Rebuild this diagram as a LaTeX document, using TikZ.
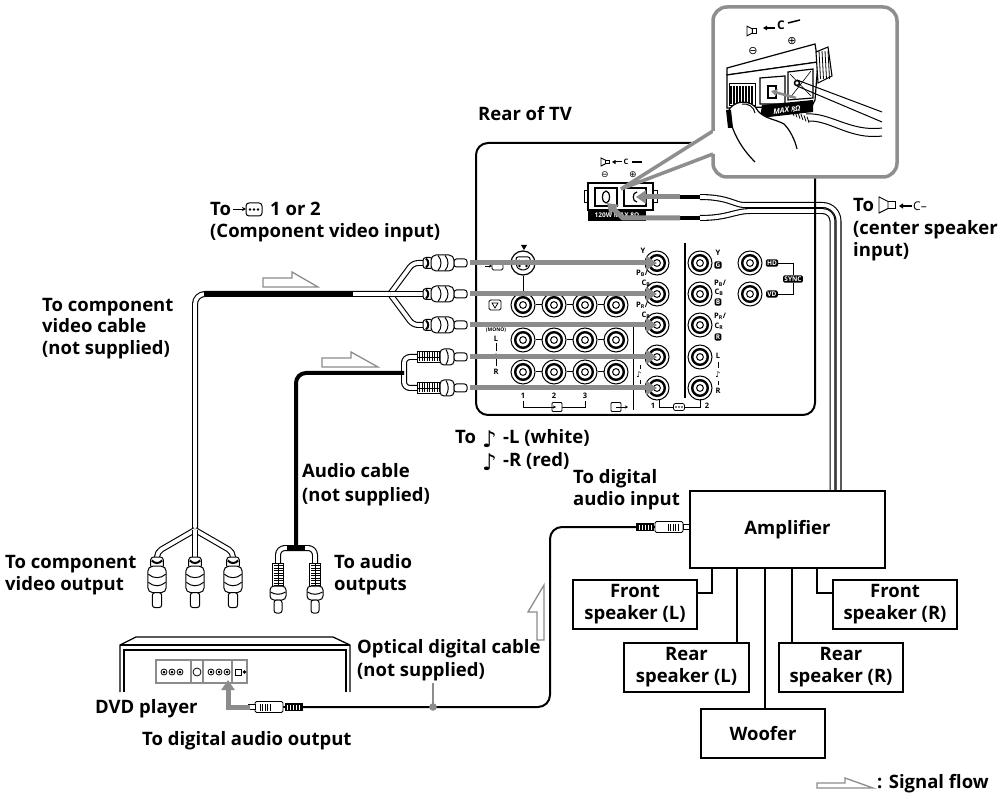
\documentclass[tikz,border=0pt]{standalone}
\usepackage{fontspec}
\setmainfont{Open Sans}
\newfontfamily\symfont{DejaVu Sans}
\usetikzlibrary{arrows.meta}

\definecolor{flowgray}{HTML}{8C8C8C}
\definecolor{framegray}{HTML}{8E8E8E}

% RCA plug of the component cable, pointing along +x from its back end
\newcommand\CompPlug[4][1]{%
  \begin{scope}[shift={(#2,#3)},rotate=#4,scale=#1,line width=1pt]
    \draw[fill=white,rounded corners=3pt] (0,-5.5) -- (10,-5.5) -- (10,5.5) -- (0,5.5) -- cycle;
    \draw[line width=2pt] (3,-4.5) .. controls (6,-2) and (6,2) .. (3,4.5);
    \draw[fill=white,rounded corners=5pt] (8,-8) -- (31,-8) -- (31,8) -- (8,8) -- cycle;
    \draw (15,-7.5) .. controls (19,-3) and (19,3) .. (15,7.5);
    \draw (22,-7.5) .. controls (26,-3) and (26,3) .. (22,7.5);
    \draw[fill=white,rounded corners=2.5pt] (31,-4) -- (44,-4) -- (44,4) -- (31,4) -- cycle;
  \end{scope}}

% RCA plug of the audio cable (striped boot), pointing along +x
\newcommand\AudPlug[3]{%
  \begin{scope}[shift={(#1,#2)},rotate=#3,line width=1pt]
    \draw[fill=white] (0,-5.5) -- (24,-5.5) -- (24,5.5) -- (0,5.5) -- cycle;
    \foreach \k in {2.5,5,...,22.5} \draw[line width=0.9pt] (\k,-4.5) -- (\k,4.5);
    \draw[line width=0.7pt] (1,0) -- (23,0);
    \draw[fill=white,rounded corners=4pt] (23,-8) -- (37,-8) -- (37,8) -- (23,8) -- cycle;
    \draw (29,-7.5) .. controls (32,-3) and (32,3) .. (29,7.5);
    \draw[fill=white,rounded corners=2.5pt] (37,-4) -- (50,-4) -- (50,4) -- (37,4) -- cycle;
  \end{scope}}

% optical (TOS) plug, pointing along +x
\newcommand\OptPlug[3]{%
  \begin{scope}[shift={(#1,#2)},rotate=#3,line width=0.9pt]
    \draw[fill=black] (0,-3.5) -- (17,-3.5) -- (17,3.5) -- (0,3.5) -- cycle;
    \foreach \k in {3,6,...,15} \draw[white,line width=0.6pt] (\k,-2.5) -- (\k,2.5);
    \draw[line width=2pt] (17,0) -- (19,0);
    \draw[fill=white,rounded corners=1.5pt] (19,-5.5) -- (47,-5.5) -- (47,5.5) -- (19,5.5) -- cycle;
    \foreach \k in {32,34.5,...,42} \draw[line width=1pt] (\k,-3.5) -- (\k,3.5);
    \draw[fill=white] (47,-2.5) -- (54,-2.5) -- (54,2.5) -- (47,2.5) -- cycle;
  \end{scope}}

% loudspeaker pictogram
\newcommand\SpkIcon[3]{%
  \begin{scope}[shift={(#1,#2)},scale=#3,line width=0.9pt]
    \draw (0,-8) -- (0,8) -- (9,3.5) -- (9,-3.5) -- cycle;
    \draw (9,-3.5) -- (16,-3.5) -- (16,3.5) -- (9,3.5);
  \end{scope}}

% white cable with black outline
\newcommand\WireW[2][]{%
  \draw[line width=6pt,#1] #2;
  \draw[white,line width=3.8pt,#1] #2;}

\begin{document}
\begin{tikzpicture}[x=1pt,y=-1pt,
  lbl/.style={font=\bfseries\fontsize{18.5}{22}\selectfont,anchor=base west,inner sep=0pt},
  tiny/.style={font=\bfseries\fontsize{7.5}{8}\selectfont,inner sep=0pt},
  tagbox/.style={fill=black,text=white,font=\bfseries\fontsize{6.5}{7}\selectfont,inner sep=1.3pt,rounded corners=1.5pt},
  jack/.style={circle,draw,line width=1pt,fill=white,minimum size=24pt,inner sep=0pt,
    path picture={\draw[line width=2.4pt] (path picture bounding box.center) circle[radius=7.8pt];
                  \draw[line width=1pt] (path picture bounding box.center) circle[radius=3.4pt];}},
  flowline/.style={draw=flowgray,line width=5pt,-{Triangle[length=11pt,width=14pt]}},
  sigflow/.style={draw=flowgray,line width=1.3pt,fill=white},
  unitbox/.style={draw,line width=1.4pt,inner sep=0pt,align=center,font=\bfseries\fontsize{18.5}{22}\selectfont},
  insetline/.style={draw=framegray,line width=3.5pt},
  link/.style={line width=1.2pt},
  blackcable/.style={line width=4pt},
  note/.style={font=\symfont\bfseries\fontsize{23}{23}\selectfont,anchor=base west,inner sep=0pt}]

\fill[white] (0,0) rectangle (1007,799);
\useasboundingbox (0,0) rectangle (1007,799);

% ---------------- speaker cable: TV centre terminal -> amplifier
\coordinate (tw1) at (680,197);
\coordinate (tw2) at (680,218);
\coordinate (ampIn1) at (838.5,491);
\coordinate (ampIn2) at (832.5,491);
\WireW[rounded corners=16pt]{(700,197) .. controls (728,197) and (735,205) .. (760,205) -- (838.5,205) -- (ampIn1)}
\WireW[rounded corners=10pt]{(700,218) .. controls (728,218) and (735,211) .. (760,211) -- (832.5,211) -- (ampIn2)}
\draw[blackcable] (tw1) -- (700,197);
\draw[blackcable] (tw2) -- (700,218);

% ---------------- rear panel of the TV
\node[lbl] (tRear) at (478,121) {Rear of TV};
\draw[line width=2pt,rounded corners=12pt] (713,143) -- (476,143) -- (476,415) -- (815,415) -- (815,177);

% S-video jack
\node[circle,draw,line width=1.2pt,fill=white,minimum size=24pt,inner sep=0pt] (sv) at (523,263) {};
\draw[line width=1pt,rounded corners=2pt] (516,257) -- (530,257) -- (530,266) -- (526,270) -- (520,270) -- (516,266) -- cycle;
\foreach \p in {(519.5,261),(526.5,261),(519.5,266),(526.5,266)} \fill \p circle[radius=1.3];
\fill (521,245) -- (527,245) -- (524,250) -- cycle;
\draw[line width=0.8pt,-{Stealth[length=3pt,width=3pt]}] (485,266) -- (492,266);
\draw[line width=0.8pt,rounded corners=1.5pt] (492,262) rectangle (503,270);

% video / audio input grid
\foreach \c/\x in {1/523,2/554,3/585,4/616}{
  \node[jack] (g1\c) at (\x,305) {};
  \node[jack] (g2\c) at (\x,340) {};
  \node[jack] (g3\c) at (\x,372) {};}
\foreach \r in {1,2,3}{\draw[line width=1pt] (g\r1) -- (g\r2) -- (g\r3) -- (g\r4);}
\draw[line width=1pt] (sv) -- (g11);
\draw[line width=0.9pt,rounded corners=1.5pt] (489,300) rectangle (501,310);
\draw[line width=0.7pt] (492,303) -- (498,303) -- (495,308) -- cycle;
\node[font=\bfseries\fontsize{5}{5}\selectfont,inner sep=0pt] (tMono) at (496,330) {(MONO)};
\node[tiny] (tLin) at (496,338.5) {L};
\draw[line width=0.8pt] (496,343) -- (496,351);
\fill (496,355) circle[radius=1.6];
\draw[line width=0.8pt] (496,359) -- (496,366);
\node[tiny] (tRin) at (496,372) {R};
\node[tiny] (tN1) at (523,396) {1};
\node[tiny] (tN2) at (554,396) {2};
\node[tiny] (tN3) at (585,396) {3};
\draw[line width=0.9pt] (523,401) -- (523,407) -- (585,407) -- (585,401);
\node[draw,fill=white,line width=0.9pt,rounded corners=1pt,minimum width=10pt,minimum height=9pt,inner sep=0pt] (inIcon) at (557,407) {};
\draw[line width=0.8pt,-{Stealth[length=3pt,width=3pt]}] (548,407) -- (556,407);
\node[draw,fill=white,line width=0.9pt,rounded corners=1pt,minimum width=10pt,minimum height=9pt,inner sep=0pt] (outIcon) at (616,407) {};
\draw[line width=0.8pt,-{Stealth[length=3pt,width=3pt]}] (616,407) -- (628,407);
\draw[line width=1pt] (633,322) -- (633,410);

% component input 1 and 2
\foreach \r/\y in {1/263,2/294,3/325,4/357,5/388}{
  \node[jack] (ca\r) at (657,\y) {};
  \node[jack] (cb\r) at (700,\y) {};}
\node[jack] (hdJ) at (750,263) {};
\node[jack] (vdJ) at (750,294) {};
\draw[line width=1.2pt] (685,243) -- (685,398);
\node[tiny] (tN1b) at (653,406) {1};
\node[tiny] (tN2b) at (707,406) {2};
\draw[line width=0.9pt] (659,399) -- (659,407) -- (700,407) -- (700,399);
\node[draw,fill=white,line width=0.8pt,rounded corners=2pt,minimum width=11pt,minimum height=7pt,inner sep=0pt] (dotIcon) at (679,407) {};
\foreach \k in {676,679,682} \fill (\k,407) circle[radius=0.8];

% labels of input 1
\node[tiny] (lY1) at (643,251) {Y};
\node[tiny] (lPb1) at (642,273) {P\textsubscript{B}/};
\node[tiny] (lCb1) at (646,283) {C\textsubscript{B}};
\node[tiny] (lPr1) at (642,305) {P\textsubscript{R}/};
\node[tiny] (lCr1) at (646,315) {C\textsubscript{R}};
\draw[line width=0.8pt] (640,365) -- (640,369);
\node[font=\symfont\fontsize{8}{8}\selectfont,inner sep=0pt] (lNote1) at (639,375) {♪};
\draw[line width=0.8pt] (640,380) -- (640,384);

% labels of input 2
\node[tiny] (lY2) at (718,253) {Y};
\node[tagbox] (tagG) at (718,265) {G};
\node[tiny] (lPb2) at (720,283) {P\textsubscript{B}/};
\node[tiny] (lCb2) at (719,292) {C\textsubscript{B}};
\node[tagbox] (tagB) at (718,302) {B};
\node[tiny] (lPr2) at (720,316) {P\textsubscript{R}/};
\node[tiny] (lCr2) at (719,326) {C\textsubscript{R}};
\node[tagbox] (tagR) at (718,337) {R};
\node[tiny] (lL2) at (718,356) {L};
\draw[line width=0.8pt] (718,362) -- (718,368);
\node[font=\symfont\fontsize{8}{8}\selectfont,inner sep=0pt] (lNote2) at (718,375) {♪};
\draw[line width=0.8pt] (718,381) -- (718,385);
\node[tiny] (lR2) at (718,391) {R};

% sync inputs
\node[tagbox] (tagHD) at (772,263) {HD};
\node[tagbox] (tagVD) at (772,294) {VD};
\node[tagbox] (tagSY) at (793,279) {SYNC};
\draw[line width=0.9pt] (tagHD.east) -| (tagSY.north);
\draw[line width=0.9pt] (tagVD.east) -| (tagSY.south);

% ---------------- call-out of the centre speaker terminal
\fill[white] (713,128) -- (621,189) -- (713,157) -- cycle;

% centre speaker terminal on the panel
\SpkIcon{601}{162}{0.5}
\draw[line width=1pt,-{Triangle[length=3.5pt,width=4pt]}] (622,162) -- (612,162);
\node[tiny] (tTermC) at (626,162) {C};
\draw[line width=1.2pt] (632,162) -- (642,162);
\node[font=\symfont\fontsize{9}{9}\selectfont,inner sep=0pt] (tTermMinus) at (605,175) {⊖};
\node[font=\symfont\fontsize{9}{9}\selectfont,inner sep=0pt] (tTermPlus) at (633,175) {⊕};
\draw[line width=1pt,fill=white] (584,191) rectangle (588,203);
\draw[line width=1pt,fill=white] (653,191) rectangle (657,203);
\draw[line width=1.6pt,fill=white] (588,183) rectangle (653,210);
\draw[line width=1.2pt] (595,188) rectangle (617,206);
\draw[line width=1.2pt] (606,197) ellipse[x radius=3.5,y radius=6];
\draw[line width=1.2pt] (624,188) rectangle (646,206);
\draw[line width=1.2pt] (637,192) .. controls (632,192) and (632,202) .. (637,202);
\fill (588,210) rectangle (646,221);
\node[text=white,font=\bfseries\fontsize{6.5}{7}\selectfont,inner sep=0pt] (tMax) at (617,215.5) {120W MAX 8Ω};
\draw[flowline,-{Triangle[length=10pt,width=13pt]}] (tw1) -- (636,197);
\draw[flowline,-{Triangle[length=10pt,width=13pt]}] (tw2) -- (623,218) -- (607,203);

\draw[insetline] (713,131) -- (621,189) -- (713,154);
\fill[white,rounded corners=14pt] (713,7) rectangle (897,177);
\draw[insetline,rounded corners=14pt] (713,131) -- (713,7) -- (897,7) -- (897,177) -- (713,177) -- (713,154);

% enlarged terminal with finger and wire
\SpkIcon{747}{31}{0.6}
\draw[line width=1.3pt,-{Triangle[length=4pt,width=4.5pt]}] (775,28) -- (763,28);
\node[font=\bfseries\fontsize{12}{12}\selectfont,inner sep=0pt] (insC) at (781,25) {C};
\draw[line width=1.5pt] (788,23) -- (800,20);
\node[font=\symfont\fontsize{11}{11}\selectfont,inner sep=0pt] (insMinus) at (753,51) {⊖};
\node[font=\symfont\fontsize{11}{11}\selectfont,inner sep=0pt] (insPlus) at (792,41) {⊕};
\draw[line width=1.2pt,fill=white] (727,68) -- (815,44) -- (818,62) -- (727,75) -- cycle;
\draw[line width=1.2pt,fill=white] (727,75) -- (818,62) -- (815,100) -- (812,106) -- (727,108) -- cycle;
\draw[line width=1.1pt,fill=white] (816,52) -- (828,47) -- (832,76) -- (818,83) -- cycle;
\foreach \k in {819,822,825,828} \draw[line width=0.8pt] (\k,51) -- (\k+1.5,79);
\draw[line width=1pt,fill=white] (729,84) rectangle (755,106);
\foreach \k in {731,734,...,752} \draw[line width=1.3pt] (\k,86) -- (\k,104);
\draw[line width=1.2pt,fill=white] (760,78) -- (785,76) -- (785,104) -- (760,104) -- cycle;
\draw[line width=1.2pt] (768,86) rectangle (776,98);
\draw[line width=1.2pt,fill=white] (788,72) -- (813,69) -- (813,98) -- (788,100) -- cycle;
\draw[line width=0.6pt] (790,74) -- (811,96) (811,71) -- (790,98);
\fill[black] (762,105) -- (813,100) -- (813,112) -- (760,118) -- cycle;
\node[text=white,font=\bfseries\itshape\fontsize{7.5}{8}\selectfont,inner sep=0pt,rotate=6] (insMax) at (787,110) {MAX 8Ω};
% solid wire in the + hole
\draw[line width=1pt] (797,80) -- (882,112);
\draw[line width=1pt] (797,86) -- (882,122);
\draw[line width=1.5pt,fill=white] (797,83) circle[radius=2.5];
% stripped wire going into the - hole
\foreach \k in {0,3,...,15} \draw[line width=0.8pt] (792+\k,110+0.45*\k) -- (794+\k,116+0.45*\k);
\draw[line width=1pt] (806,114) .. controls (830,112) and (850,132) .. (882,128);
\draw[line width=1pt] (808,121) .. controls (830,120) and (850,140) .. (882,136);
\draw[draw=flowgray,line width=2.6pt,-{Triangle[length=6pt,width=7pt]}] (796,98) -- (771,91);
% finger pressing the lever
\draw[line width=1.2pt,fill=white] (728,112) .. controls (732,100) and (752,98) .. (758,111)
   .. controls (765,119) and (775,119) .. (784,124) .. controls (790,130) and (795,140) .. (797,149);
\draw[line width=1.2pt] (729,115) .. controls (733,135) and (743,150) .. (755,162);
\draw[line width=1pt] (742,104) .. controls (748,103) and (754,107) .. (755,113);
\fill (726,110) -- (731,110) -- (733,128) -- (728,128) -- cycle;

\node[lbl] (tCtrTo) at (853,212) {To};
\SpkIcon{879}{205}{1}
\draw[line width=1.1pt,-{Triangle[length=4pt,width=5pt]}] (912,206) -- (899,206);
\node[font=\fontsize{12}{12}\selectfont,anchor=base west,inner sep=0pt] (tCtrC) at (913,211) {C–};
\node[lbl] (tCtr2) at (853,235) {(center speaker};
\node[lbl] (tCtr3) at (853,257) {input)};

% ---------------- component video cable
\coordinate (cvJ) at (390,294);
\coordinate (cvJb) at (195,530);
\WireW[rounded corners=5pt]{(423,263) -- (413,263) -- (cvJ)}
\WireW[rounded corners=5pt]{(423,325) -- (413,325) -- (cvJ)}
\WireW{(423,294) -- (cvJ)}
\WireW[rounded corners=10pt]{(cvJ) -- (195,294) -- (cvJb)}
\draw[blackcable] (353,294) -- (204,294);
\WireW[rounded corners=5pt]{(cvJb) -- (157,552) -- (157,560)}
\WireW[rounded corners=5pt]{(cvJb) -- (233,552) -- (233,560)}
\WireW{(cvJb) -- (195,560)}
\foreach \y in {263,294,325}{\CompPlug{423}{\y}{0}}
\foreach \x in {157,195,233}{\CompPlug[1.15]{\x}{557}{-90}}

% ---------------- audio cable
\coordinate (auJ) at (404,373);
\coordinate (auJb) at (296,548);
\WireW[rounded corners=6pt]{(417,357) -- (404,357) -- (404,388) -- (417,388)}
\draw[blackcable,rounded corners=10pt] (auJ) -- (296,373) -- (auJb);
\WireW[rounded corners=7pt]{(278,566) -- (278,548) -- (315,548) -- (315,566)}
\draw[blackcable] (287,548) -- (305,548);
\foreach \y in {357,388}{\AudPlug{417}{\y}{0}}
\foreach \x in {278,315}{\AudPlug{\x}{563}{-90}}

% ---------------- gray insertion arrows to the jacks
\coordinate (pt1) at (470,263);
\coordinate (pt2) at (470,294);
\coordinate (pt3) at (470,325);
\coordinate (pt4) at (470,357);
\coordinate (pt5) at (470,388);
\foreach \r in {1,...,5}{\draw[flowline] (pt\r) -- (ca\r.center);}

% signal flow marks
\draw[sigflow] (263,278) -- (292,278) -- (292,272) -- (318,287) -- (263,287) -- cycle;
\draw[sigflow] (322,358) -- (351,358) -- (351,352) -- (378,367) -- (322,367) -- cycle;
\draw[sigflow] (537,640) -- (544,640) -- (544,585) -- (528,612) -- (537,612) -- cycle;
\draw[sigflow] (817,783) -- (845,783) -- (845,778) -- (873,788) -- (817,788) -- cycle;
\node[lbl] (tSig) at (877,788) {: Signal flow};

% ---------------- labels on the left
\node[lbl] (tComp1) at (210,216) {To};
\draw[line width=0.9pt,-{Stealth[length=4pt,width=4pt]}] (233,209) -- (246,209);
\draw[line width=1pt,rounded corners=3pt] (246,203) rectangle (262,216);
\foreach \k in {250,254,258} \fill (\k,209.5) circle[radius=1.3];
\node[lbl] (tComp1b) at (270,216) {1 or 2};
\node[lbl] (tComp2) at (210,238) {(Component video input)};
\node[lbl] (tCab1) at (42,312) {To component};
\node[lbl] (tCab2) at (42,333) {video cable};
\node[lbl] (tCab3) at (42,355) {(not supplied)};
\node[lbl] (tAud1) at (302,478) {Audio cable};
\node[lbl] (tAud2) at (302,501) {(not supplied)};
\node[lbl] (tOut1) at (5,568) {To component};
\node[lbl] (tOut2) at (5,590) {video output};
\node[lbl] (tAo1) at (334,568) {To audio};
\node[lbl] (tAo2) at (334,590) {outputs};
\node[lbl] (tTo) at (455,443) {To};
\node[note] (tNoteL) at (482,447) {♪};
\node[lbl] (tLw) at (503,443) {-L (white)};
\node[note] (tNoteR) at (482,471) {♪};
\node[lbl] (tRr) at (503,467) {-R (red)};
\node[lbl] (tDig1) at (573,483) {To digital};
\node[lbl] (tDig2) at (573,505) {audio input};

% ---------------- DVD player
\draw[line width=1.3pt] (120,692) -- (120,645) -- (136,637) -- (333,637) -- (350,645) -- (350,692);
\draw[line width=1.1pt] (120,645) -- (350,645);
\draw[line width=1.1pt] (124,692) -- (124,650) -- (346,650) -- (346,692);
\draw[draw=flowgray,line width=2pt,fill=white] (156,660) rectangle (247,683);
\draw[flowgray,line width=1.5pt] (191,660) -- (191,683) (203,660) -- (203,683) (232,660) -- (232,683);
\foreach \x in {164,172,180,211,219,227}{
  \draw[line width=0.8pt,fill=white] (\x,672) circle[radius=3];
  \fill (\x,672) circle[radius=1.5];}
\draw[line width=0.8pt] (197,672) circle[radius=4];
\draw[line width=0.8pt] (235,669) rectangle (241,675);
\fill (244.5,672) circle[radius=1.8];
\node[lbl] (tDvd) at (95,713) {DVD player};
\node[lbl] (tDvdOut) at (142,745) {To digital audio output};

% ---------------- optical cable
\coordinate (opA) at (302,707);
\coordinate (opB) at (636,527);
\coordinate (opDot) at (433,707);
\coordinate (opTip) at (250,707);
\draw[line width=2pt,rounded corners=12pt] (opA) -- (550,707) -- (550,527) -- (opB);
\OptPlug{302}{707}{180}
\OptPlug{636}{527}{0}
\draw[flowline,-{Triangle[length=10pt,width=13pt]}] (opTip) -- (228,707) -- (228,680);
\draw[draw=flowgray,line width=2pt] (433,683) -- (opDot);
\fill[flowgray] (opDot) circle[radius=3.8];
\node[lbl] (tOpt1) at (357,653) {Optical digital cable};
\node[lbl] (tOpt2) at (357,676) {(not supplied)};

% ---------------- amplifier and speakers
\node[unitbox,minimum width=195pt,minimum height=77pt] (amp) at (787.5,529.5) {Amplifier};
\node[unitbox,minimum width=124pt,minimum height=49pt] (frontL) at (635,604.5) {Front\\speaker (L)};
\node[unitbox,minimum width=124pt,minimum height=49pt] (frontR) at (895,604.5) {Front\\speaker (R)};
\node[unitbox,minimum width=125pt,minimum height=49pt] (rearL) at (686.5,667.5) {Rear\\speaker (L)};
\node[unitbox,minimum width=124pt,minimum height=49pt] (rearR) at (841,667.5) {Rear\\speaker (R)};
\node[unitbox,minimum width=124pt,minimum height=49pt] (woofer) at (763,733.5) {Woofer};
\coordinate (aFL) at (712,568);
\coordinate (aRL) at (737,568);
\coordinate (aW) at (765,568);
\coordinate (aRR) at (792,568);
\coordinate (aFR) at (817,568);
\coordinate (eFL) at (697,593);
\coordinate (eFR) at (833,593);
\draw[link] (aFL) |- (eFL);
\draw[link] (aFR) |- (eFR);
\draw[link] (aRL) -- (aRL |- rearL.north);
\draw[link] (aRR) -- (aRR |- rearR.north);
\draw[link] (aW) -- (aW |- woofer.north);

\end{tikzpicture}
\end{document}
